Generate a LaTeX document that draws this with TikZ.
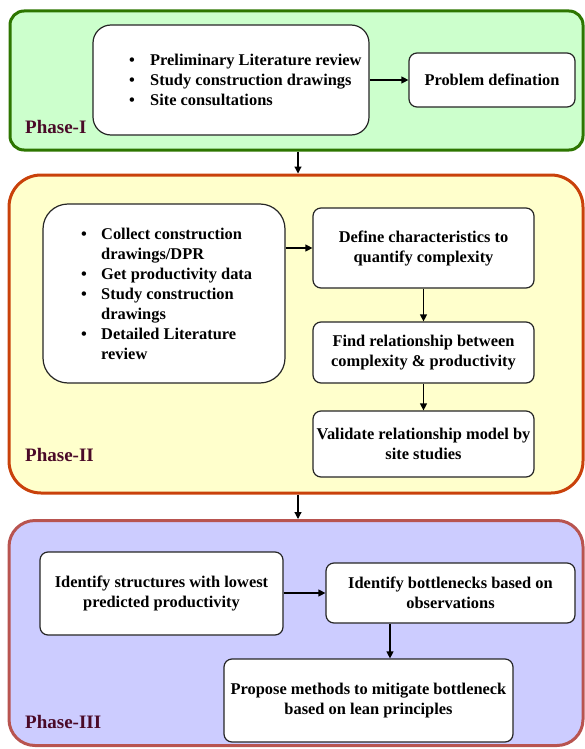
\documentclass[tikz,border=0pt]{standalone}
\usepackage{fontspec}
\setmainfont{Liberation Serif}
\usetikzlibrary{arrows.meta}
\definecolor{g1line}{HTML}{2D7600}
\definecolor{g1fill}{HTML}{CCFFCC}
\definecolor{y2line}{HTML}{C9410A}
\definecolor{y2fill}{HTML}{FFFFCC}
\definecolor{b3line}{HTML}{B85450}
\definecolor{b3fill}{HTML}{CCCCFF}
\definecolor{phasetxt}{HTML}{4A0A28}
\tikzset{
  phasebox/.style={line width=3pt, inner sep=0pt},
  stepbox/.style={draw=black!85, line width=1.2pt, fill=white, rounded corners=8pt,
     inner sep=0pt, align=center, font=\fontsize{16.4}{20}\selectfont\bfseries},
  listbox/.style={draw=black!85, line width=1.2pt, fill=white, inner sep=0pt},
  listtext/.style={anchor=west, inner sep=0pt, align=left, font=\fontsize{16.4}{20}\selectfont\bfseries},
  phaselabel/.style={anchor=west, inner sep=0pt, text=phasetxt, font=\fontsize{19}{23}\selectfont\bfseries},
  flow/.style={line width=1.2pt, -{Triangle[length=7pt,width=7pt]}}
}
\begin{document}
\begin{tikzpicture}[x=1pt,y=-1pt]
\useasboundingbox (0,0) rectangle (585,749);
% phase containers
\node[phasebox, draw=g1line, fill=g1fill, rounded corners=14pt, minimum width=573pt, minimum height=139pt] (ph1) at (296.5,80.5) {};
\node[phasebox, draw=y2line, fill=y2fill, rounded corners=32pt, minimum width=574pt, minimum height=318pt] (ph2) at (296,334) {};
\node[phasebox, draw=b3line, fill=b3fill, rounded corners=26pt, minimum width=574pt, minimum height=225pt] (ph3) at (296,633) {};
\node[phaselabel] (lab1) at (25,127) {Phase-I};
\node[phaselabel] (lab2) at (25,455) {Phase-II};
\node[phaselabel] (lab3) at (25,722) {Phase-III};
% phase I
\node[listbox, rounded corners=18pt, minimum width=276pt, minimum height=110pt] (list1) at (231,80) {};
\node[listtext] (list1t) at (129,80) {\makebox[21pt][l]{\textbullet}Preliminary Literature review\\
\makebox[21pt][l]{\textbullet}Study construction drawings\\
\makebox[21pt][l]{\textbullet}Site consultations};
\node[stepbox, minimum width=166pt, minimum height=54pt] (prob) at (492,80) {Problem defination};
% phase II
\node[listbox, rounded corners=25pt, minimum width=242pt, minimum height=179pt] (list2) at (164,293.5) {};
\node[listtext] (list2t) at (81,293.5) {\makebox[20pt][l]{\textbullet}Collect construction\\
\hspace*{20pt}drawings/DPR\\
\makebox[20pt][l]{\textbullet}Get productivity data\\
\makebox[20pt][l]{\textbullet}Study construction\\
\hspace*{20pt}drawings\\
\makebox[20pt][l]{\textbullet}Detailed Literature\\
\hspace*{20pt}review};
\node[stepbox, minimum width=221pt, minimum height=80pt] (def) at (423.5,248) {Define characteristics to\\quantify complexity};
\node[stepbox, minimum width=221pt, minimum height=61pt] (find) at (423.5,352.5) {Find relationship between\\complexity \& productivity};
\node[stepbox, minimum width=221pt, minimum height=66pt] (valid) at (423.5,444) {Validate relationship model by\\site studies};
% phase III
\node[stepbox, minimum width=243pt, minimum height=83pt] (ident) at (161.5,593.5) {Identify structures with lowest\\predicted productivity};
\node[stepbox, minimum width=249pt, minimum height=60pt] (bott) at (450.5,593) {Identify bottlenecks based on\\observations};
\node[stepbox, minimum width=289pt, minimum height=83pt] (prop) at (368.5,700.5) {Propose methods to mitigate bottleneck\\based on lean principles};
% connectors
\coordinate (cx) at (298,0);
\coordinate (cb) at (390,0);
\draw[flow] (list1.east |- prob.west) -- (prob.west);
\draw[flow] (ph1.south -| cx) -- (ph2.north -| cx);
\draw[flow] (list2.east |- def.west) -- (def.west);
\draw[flow] (def.south) -- (find.north);
\draw[flow] (find.south) -- (valid.north);
\draw[flow] (ph2.south -| cx) -- (ph3.north -| cx);
\draw[flow] (ident.east |- bott.west) -- (bott.west);
\draw[flow] (bott.south -| cb) -- (prop.north -| cb);
\end{tikzpicture}
\end{document}
